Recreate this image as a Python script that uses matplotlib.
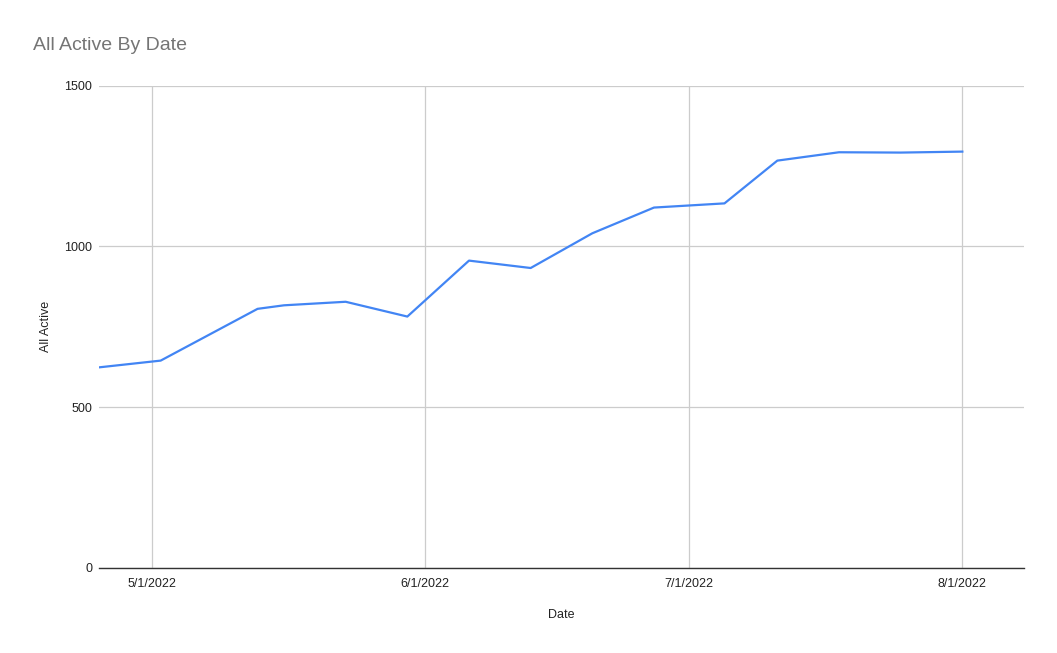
import matplotlib
matplotlib.use("Agg")
import matplotlib.pyplot as plt
import matplotlib.dates as mdates
import numpy as np
from datetime import datetime

plt.rcParams['font.family'] = ['Liberation Sans', 'DejaVu Sans']

dates = ["2022-04-25", "2022-05-02", "2022-05-13", "2022-05-16", "2022-05-23",
         "2022-05-30", "2022-06-06", "2022-06-13", "2022-06-20", "2022-06-27",
         "2022-07-05", "2022-07-11", "2022-07-18", "2022-07-25", "2022-08-01"]
all_active = [624, 645, 806, 817, 828, 782, 956, 933, 1041, 1121, 1134, 1267, 1293, 1292, 1295]
tick_dates = ["2022-05-01", "2022-06-01", "2022-07-01", "2022-08-01"]
tick_labels = ["5/1/2022", "6/1/2022", "7/1/2022", "8/1/2022"]
y_ticks = [0, 500, 1000, 1500]

x = [datetime.strptime(d, "%Y-%m-%d") for d in dates]
xt = [datetime.strptime(d, "%Y-%m-%d") for d in tick_dates]

fig = plt.figure(figsize=(10.57, 6.53), dpi=100)
ax = fig.add_axes([99/1057, 1-568/653, (1024-99)/1057, (568-85.7)/653])

ax.plot(x, all_active, color="#4285F4", linewidth=1.6, solid_joinstyle="round")

ax.set_xlim(datetime(2022, 4, 25), datetime(2022, 8, 8))
ax.set_ylim(0, 1500)
ax.set_xticks(xt)
ax.set_xticklabels(tick_labels)
ax.set_yticks(y_ticks)
ax.set_yticklabels([str(v) for v in y_ticks])

ax.grid(True, color="#cccccc", linewidth=0.9)
ax.set_axisbelow(True)
for s in ["top", "right", "left"]:
    ax.spines[s].set_visible(False)
ax.spines["bottom"].set_color("#333333")
ax.spines["bottom"].set_linewidth(1.0)
ax.spines["bottom"].set_zorder(3)
ax.tick_params(axis="both", length=0, labelsize=9, labelcolor="#222222")
ax.tick_params(axis="x", pad=7)
ax.tick_params(axis="y", pad=5)

ax.set_xlabel("Date", fontsize=9, color="#222222", labelpad=14)
ax.set_ylabel("All Active", fontsize=9, color="#222222", labelpad=9)

fig.text(33/1057, 1-45/653, "All Active By Date", fontsize=14, color="#757575",
         ha="left", va="center")

fig.savefig("out.png", dpi=100, facecolor="white")
